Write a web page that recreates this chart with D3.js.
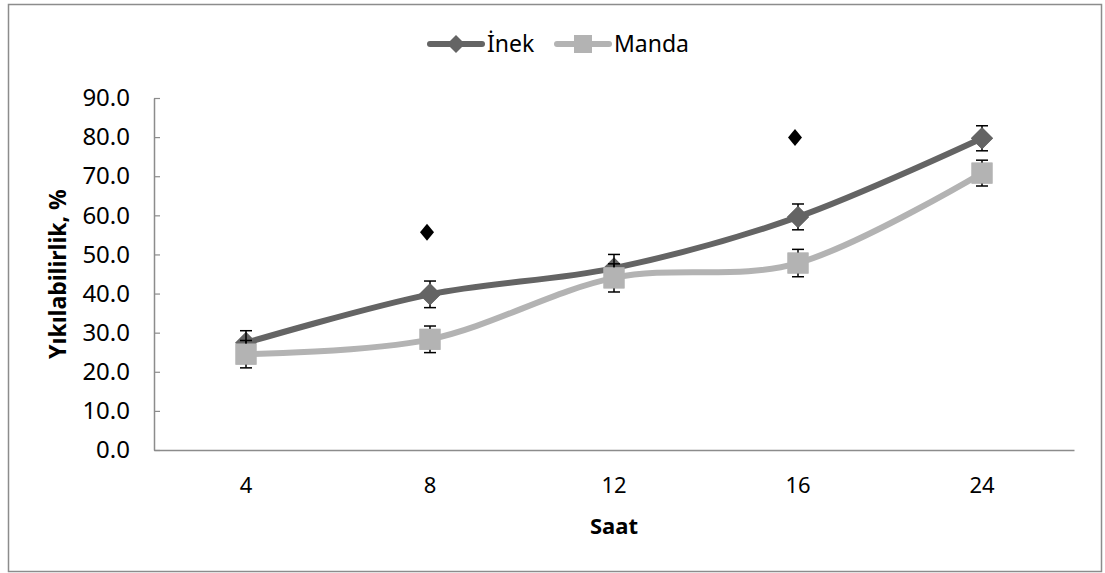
<!DOCTYPE html>
<html>
<head>
<meta charset="utf-8">
<script src="https://cdn.jsdelivr.net/npm/d3@7"></script>
<style>
  html, body { margin: 0; padding: 0; background: #fff; }
  svg { display: block; }
  text { font-family: "Noto Sans", "Open Sans", sans-serif; fill: #000; }
</style>
</head>
<body>
<svg id="chart" width="1105" height="573"></svg>
<script>
const categories = ["4", "8", "12", "16", "24"];
const inekValues = [27.4, 39.8, 46.5, 59.6, 79.7];
const inekErrors = [3.1, 3.4, 3.5, 3.3, 3.2];
const mandaValues = [24.5, 28.3, 44.0, 47.8, 70.8];
const mandaErrors = [3.5, 3.4, 3.6, 3.5, 3.3];
const significance = [null, 55.7, null, 79.9, null];
const yTicks = [0, 10, 20, 30, 40, 50, 60, 70, 80, 90];
const seriesNames = ["İnek", "Manda"];

const svg = d3.select("#chart");
const W = 1105, H = 573;
const margin = { left: 154, right: 31, top: 98, bottom: 123 };
const plotW = W - margin.left - margin.right;
const plotH = H - margin.top - margin.bottom;

// outer border
svg.append("rect").attr("x", 8.5).attr("y", 4.5).attr("width", 1093).attr("height", 567)
  .attr("fill", "none").attr("stroke", "#8c8c8c").attr("stroke-width", 1.5);

const x = d3.scaleBand().domain(categories).range([margin.left, margin.left + plotW]).padding(0);
const y = d3.scaleLinear().domain([0, 90]).range([margin.top + plotH, margin.top]);
const cx = c => x(c) + x.bandwidth() / 2;

// y axis
const yAxis = d3.axisLeft(y).tickValues(yTicks).tickFormat(d3.format(".1f")).tickSizeInner(-6).tickSizeOuter(0).tickPadding(24);
const gy = svg.append("g").attr("transform", `translate(${margin.left},0)`).call(yAxis);
gy.select(".domain").attr("stroke", "#8c8c8c").attr("stroke-width", 1.5);
gy.selectAll(".tick line").attr("stroke", "#8c8c8c").attr("stroke-width", 1.2);
gy.selectAll(".tick text").attr("font-size", 24).attr("font-family", "Noto Sans").attr("fill", "#000");

// x axis
const xAxis = d3.axisBottom(x).tickSize(0).tickPadding(27);
const gx = svg.append("g").attr("transform", `translate(0,${margin.top + plotH})`).call(xAxis);
gx.select(".domain").attr("stroke", "#8c8c8c").attr("stroke-width", 1.5);
gx.selectAll(".tick text").attr("font-size", 22).attr("font-family", "Noto Sans").attr("fill", "#000");

// axis titles
svg.append("text").attr("x", cx("12")).attr("y", 534).attr("text-anchor", "middle")
  .attr("font-size", 22).attr("font-weight", "bold").text("Saat");
svg.append("text").attr("transform", `translate(66,${y(45)}) rotate(-90)`).attr("text-anchor", "middle")
  .attr("font-size", 23).attr("font-weight", "bold").text("Yıkılabilirlik, %");

const line = d3.line().x((d, i) => cx(categories[i])).y(d => y(d)).curve(d3.curveCatmullRom.alpha(0));

const inekColor = "#646464", mandaColor = "#b3b3b3";
const diamond = (s) => `M0,${-s}L${s},0L0,${s}L${-s},0Z`;

// İnek series
svg.append("path").datum(inekValues).attr("d", line).attr("fill", "none")
  .attr("stroke", inekColor).attr("stroke-width", 6).attr("stroke-linecap", "round");
svg.selectAll(".inekM").data(inekValues).join("path")
  .attr("transform", (d, i) => `translate(${cx(categories[i])},${y(d)})`)
  .attr("d", diamond(11)).attr("fill", inekColor);

// Manda series
svg.append("path").datum(mandaValues).attr("d", line).attr("fill", "none")
  .attr("stroke", mandaColor).attr("stroke-width", 6).attr("stroke-linecap", "round");
svg.selectAll(".mandaM").data(mandaValues).join("rect")
  .attr("x", (d, i) => cx(categories[i]) - 10.5).attr("y", d => y(d) - 10.5)
  .attr("width", 21).attr("height", 21).attr("fill", mandaColor);

// error bars
function errBars(vals, errs) {
  vals.forEach((v, i) => {
    const px = cx(categories[i]);
    const g = svg.append("g").attr("stroke", "#000").attr("stroke-width", 1.5);
    g.append("line").attr("x1", px).attr("x2", px).attr("y1", y(v + errs[i])).attr("y2", y(v - errs[i]));
    g.append("line").attr("x1", px - 6).attr("x2", px + 6).attr("y1", y(v + errs[i])).attr("y2", y(v + errs[i]));
    g.append("line").attr("x1", px - 6).attr("x2", px + 6).attr("y1", y(v - errs[i])).attr("y2", y(v - errs[i]));
  });
}
errBars(inekValues, inekErrors);
errBars(mandaValues, mandaErrors);

// markers over error stems
svg.selectAll(".inekM2").data(inekValues).join("path")
  .attr("transform", (d, i) => `translate(${cx(categories[i])},${y(d)})`)
  .attr("d", diamond(11)).attr("fill", inekColor)
  .attr("display", (d, i) => (i === 0 || i === 2) ? "none" : null);
svg.selectAll(".mandaM2").data(mandaValues).join("rect")
  .attr("x", (d, i) => cx(categories[i]) - 10.5).attr("y", d => y(d) - 10.5)
  .attr("width", 21).attr("height", 21).attr("fill", mandaColor);

// significance markers
svg.selectAll(".sig").data(significance.map((v, i) => ({ v, i })).filter(d => d.v !== null)).join("path")
  .attr("transform", d => `translate(${cx(categories[d.i]) - 3},${y(d.v)}) scale(0.7,0.85)`)
  .attr("d", diamond(10)).attr("fill", "#000");

// legend
const legend = [
  { name: seriesNames[0], color: inekColor, shape: "diamond", x0: 428 },
  { name: seriesNames[1], color: mandaColor, shape: "square", x0: 555 }
];
legend.forEach(l => {
  const g = svg.append("g").attr("transform", `translate(${l.x0},44)`);
  g.append("line").attr("x1", 2).attr("x2", 54).attr("y1", 0).attr("y2", 0)
    .attr("stroke", l.color).attr("stroke-width", 6).attr("stroke-linecap", "round");
  if (l.shape === "diamond") g.append("path").attr("transform", "translate(28,0)").attr("d", diamond(9)).attr("fill", l.color);
  else g.append("rect").attr("x", 19).attr("y", -9).attr("width", 18).attr("height", 18).attr("fill", l.color);
  g.append("text").attr("x", 59).attr("y", 8).attr("font-size", 23).text(l.name);
});
</script>
</body>
</html>
